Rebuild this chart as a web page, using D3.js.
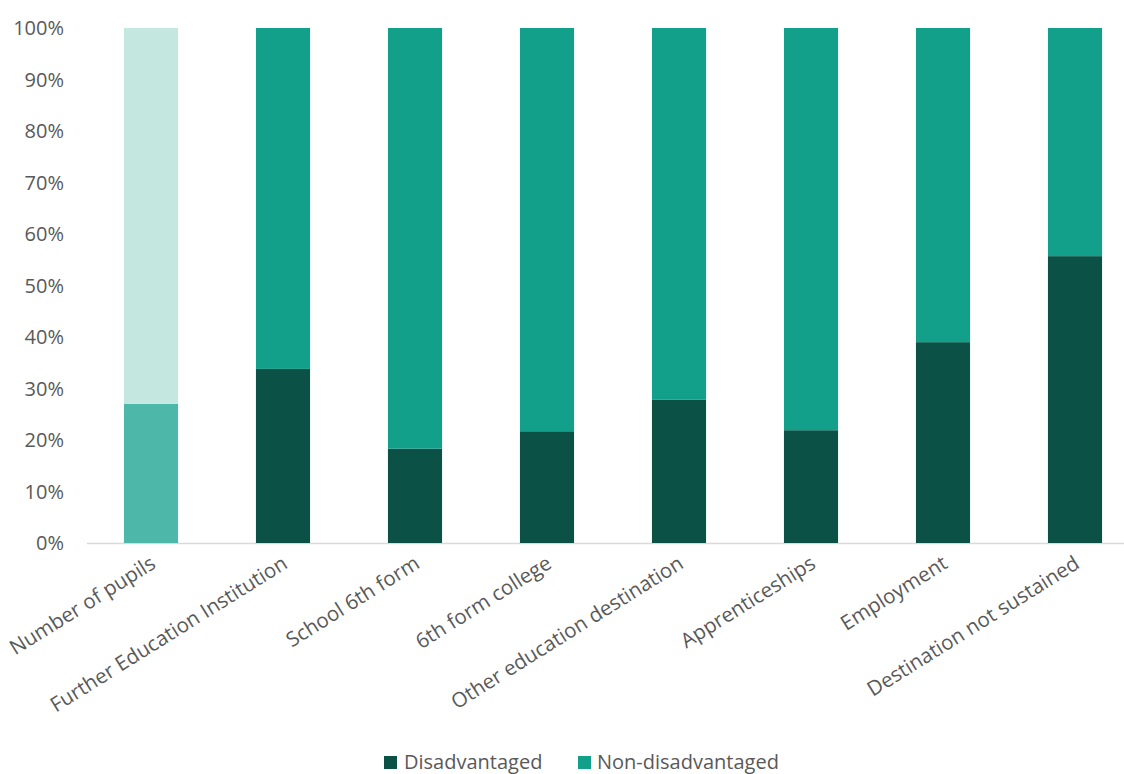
<!DOCTYPE html>
<html><head><meta charset="utf-8">
<script src="https://cdn.jsdelivr.net/npm/d3@7"></script>
<style>body{margin:0;background:#fff}svg{display:block}text{font-family:"Open Sans","Noto Sans",sans-serif;fill:#595959}</style>
</head><body><svg id="c" width="1124" height="774"></svg>
<script>
const categories = ["Number of pupils","Further Education Institution","School 6th form","6th form college","Other education destination","Apprenticeships","Employment","Destination not sustained"];
const disadvantaged = [27, 33.8, 18.3, 21.7, 27.8, 21.9, 39.0, 55.7];
const nonDisadvantaged = disadvantaged.map(d => 100 - d);
const yTicks = [0,10,20,30,40,50,60,70,80,90,100];
const seriesNames = ["Disadvantaged","Non-disadvantaged"];
const colors = ["#0B5145","#12A08B"];
const firstColors = ["#4DB8A9","#C4E7E0"];

const svg = d3.select("#c");
const x = d3.scaleBand().domain(categories).range([85,1141]).paddingInner(0.59).paddingOuter(0.295);
const y = d3.scaleLinear().domain([0,100]).range([543,28]);

svg.append("line").attr("x1",87).attr("x2",1124).attr("y1",543.5).attr("y2",543.5).attr("stroke","#d9d9d9").attr("stroke-width",1.5);

svg.append("g").selectAll("text").data(yTicks).join("text")
  .attr("x",64).attr("y",d=>y(d)).attr("dy","0.35em").attr("text-anchor","end")
  .attr("font-size",20).text(d=>d+"%");

const g = svg.append("g");
categories.forEach((c,i)=>{
  const d = disadvantaged[i], n = nonDisadvantaged[i];
  const c0 = i===0 ? firstColors[0] : colors[0];
  const c1 = i===0 ? firstColors[1] : colors[1];
  g.append("rect").attr("x",x(c)).attr("width",x.bandwidth()).attr("y",y(d)).attr("height",y(0)-y(d)).attr("fill",c0);
  g.append("rect").attr("x",x(c)).attr("width",x.bandwidth()).attr("y",y(d+n)).attr("height",y(d)-y(d+n)).attr("fill",c1);
});

svg.append("g").selectAll("text").data(categories).join("text")
  .attr("transform",d=>`translate(${x(d)+x.bandwidth()/2+6},${567}) rotate(-32)`)
  .attr("text-anchor","end").attr("font-size",20.5).text(d=>d);

const leg = [{x:384,tx:404},{x:578,tx:597}];
seriesNames.forEach((s,i)=>{
  svg.append("rect").attr("x",leg[i].x).attr("y",756).attr("width",13).attr("height",13).attr("fill",colors[i]);
  svg.append("text").attr("x",leg[i].tx).attr("y",762).attr("dy","0.35em").attr("font-size",20).text(s);
});
</script></body></html>
